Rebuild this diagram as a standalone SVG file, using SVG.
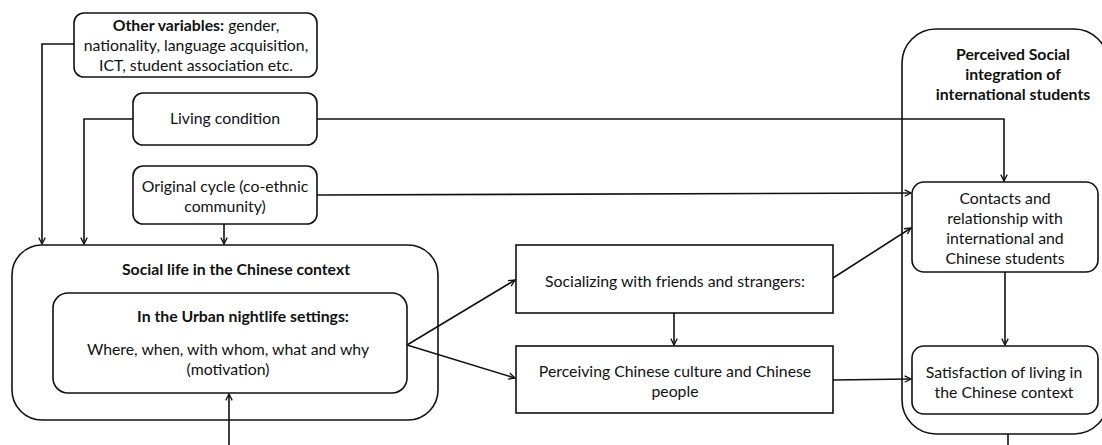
<svg xmlns="http://www.w3.org/2000/svg" width="1102" height="445" viewBox="0 0 1102 445">
<style>
.box{fill:#fff;stroke:#111;stroke-width:1.6}
.t{font-family:Lato,"Liberation Sans",Arial,sans-serif;font-size:15.8px;fill:#111;text-anchor:middle}
.b{font-weight:bold}
.c{fill:none;stroke:#111;stroke-width:1.6}
</style>
<defs>
<marker id="ah" viewBox="0 0 10 10" refX="9" refY="5" markerWidth="8" markerHeight="8" markerUnits="userSpaceOnUse" orient="auto">
<path d="M1,1 L9,5 L1,9" fill="none" stroke="#111" stroke-width="1.6"/>
</marker>
</defs>
<rect width="1102" height="445" fill="#fff"/>
<g id="perceived">
<rect class="box" x="902" y="29" width="206" height="405" rx="34"/>
<text class="t b" x="1013" y="60">Perceived Social</text>
<text class="t b" x="1013" y="80">integration of</text>
<text class="t b" x="1013" y="100">international students</text>
</g>
<g id="other">
<rect class="box" x="74" y="13" width="243" height="64" rx="10"/>
<text class="t" x="196" y="31"><tspan class="b">Other variables:</tspan> gender,</text>
<text class="t" x="196" y="51">nationality, language acquisition,</text>
<text class="t" x="196" y="71">ICT, student association etc.</text>
</g>
<g id="living">
<rect class="box" x="133" y="93" width="184" height="52" rx="10"/>
<text class="t" x="225" y="124">Living condition</text>
</g>
<g id="original">
<rect class="box" x="133" y="166" width="184" height="58" rx="10"/>
<text class="t" x="225" y="192">Original cycle (co-ethnic</text>
<text class="t" x="225" y="212">community)</text>
</g>
<g id="social">
<rect class="box" x="12" y="245" width="426" height="175" rx="30"/>
<text class="t b" x="236" y="275">Social life in the Chinese context</text>
</g>
<g id="urban">
<rect class="box" x="53" y="293" width="354" height="100" rx="15"/>
<text class="t b" x="243" y="322">In the Urban nightlife settings:</text>
<text class="t" x="228" y="355">Where, when, with whom, what and why</text>
<text class="t" x="228" y="375">(motivation)</text>
</g>
<g id="socializing">
<rect class="box" x="516" y="245" width="317" height="68"/>
<text class="t" x="675" y="287">Socializing with friends and strangers:</text>
</g>
<g id="perceiving">
<rect class="box" x="516" y="346" width="317" height="67"/>
<text class="t" x="675" y="377">Perceiving Chinese culture and Chinese</text>
<text class="t" x="675" y="397">people</text>
</g>
<g id="contacts">
<rect class="box" x="912" y="182" width="186" height="90" rx="12"/>
<text class="t" x="1005" y="204">Contacts and</text>
<text class="t" x="1005" y="224">relationship with</text>
<text class="t" x="1005" y="244">international and</text>
<text class="t" x="1005" y="264">Chinese students</text>
</g>
<g id="satisfaction">
<rect class="box" x="912" y="346" width="186" height="68" rx="12"/>
<text class="t" x="1004" y="378">Satisfaction of living in</text>
<text class="t" x="1004" y="398">the Chinese context</text>
</g>
<g id="connectors">
<polyline class="c" points="74,44 42,44 42,244" marker-end="url(#ah)"/>
<polyline class="c" points="133,119 84,119 84,244" marker-end="url(#ah)"/>
<line class="c" x1="224" y1="224" x2="224" y2="244" marker-end="url(#ah)"/>
<polyline class="c" points="317,119 1004,119 1004,181" marker-end="url(#ah)"/>
<line class="c" x1="317" y1="195" x2="911" y2="193" marker-end="url(#ah)"/>
<line class="c" x1="229" y1="445" x2="229" y2="394" marker-end="url(#ah)"/>
<line class="c" x1="407" y1="345" x2="515" y2="280" marker-end="url(#ah)"/>
<line class="c" x1="407" y1="345" x2="515" y2="378" marker-end="url(#ah)"/>
<line class="c" x1="674" y1="313" x2="674" y2="345" marker-end="url(#ah)"/>
<line class="c" x1="833" y1="278" x2="911" y2="228" marker-end="url(#ah)"/>
<line class="c" x1="833" y1="380" x2="911" y2="379" marker-end="url(#ah)"/>
<line class="c" x1="1005" y1="272" x2="1005" y2="345" marker-end="url(#ah)"/>
<line class="c" x1="1008" y1="434" x2="1008" y2="445"/>
</g>
</svg>
